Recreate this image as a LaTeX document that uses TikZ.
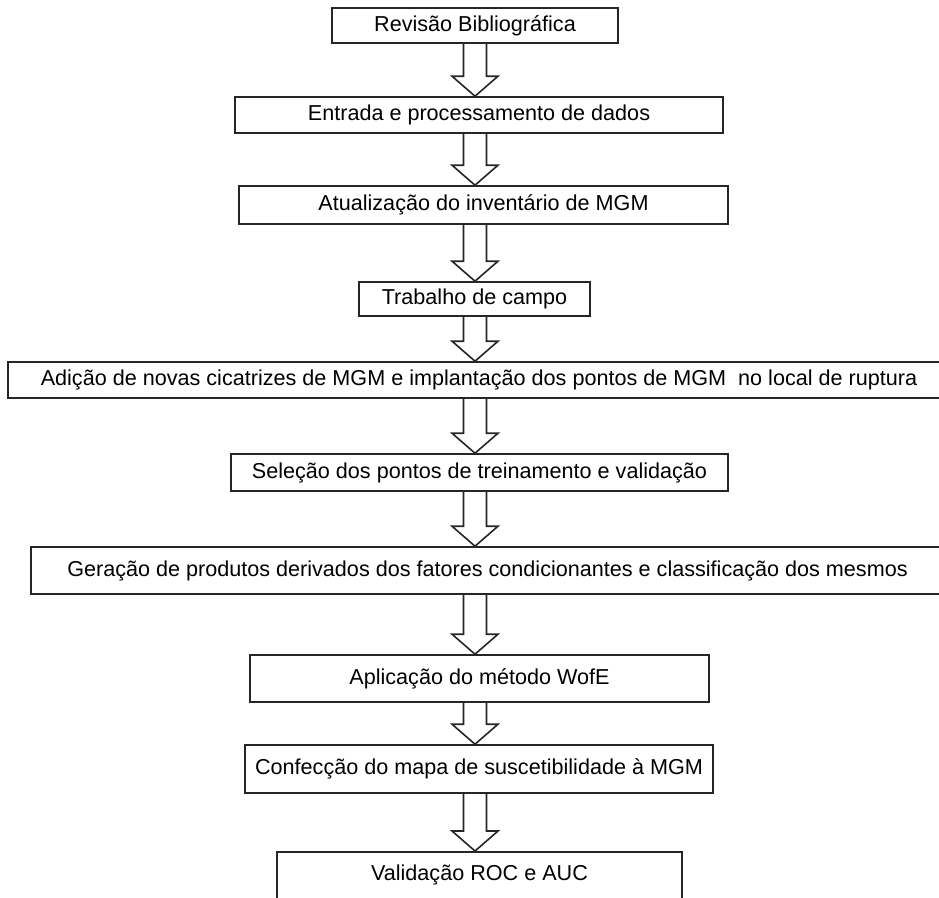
\documentclass[tikz,border=0pt]{standalone}
\usepackage{fontspec}
\setmainfont{Liberation Sans}
\usetikzlibrary{calc}

\begin{document}
\begin{tikzpicture}[x=1pt,y=-1pt,
  font=\fontsize{21.6pt}{26pt}\selectfont,
  stage/.style={draw=black!85,line width=1.6pt,inner sep=0pt},
  blockarrow/.style={draw=black!85,line width=1.6pt,line join=miter}]
 \useasboundingbox (0,0) rectangle (939,897);
 \coordinate (ax) at (475,0);
 \node[stage,minimum width=286,minimum height=35] (rev) at (475,25.5) {Revisão Bibliográfica};
 \node[stage,minimum width=488,minimum height=36] (ent) at (479,115) {Entrada e processamento de dados};
 \node[stage,minimum width=489,minimum height=38] (atu) at (483.5,205) {Atualização do inventário de MGM};
 \node[stage,minimum width=231,minimum height=34] (cam) at (474.5,299) {Trabalho de campo};
 \node[stage,minimum width=942,minimum height=36] (adi) at (479,380)
   {Adição de novas cicatrizes de MGM e implantação dos pontos de MGM~ no local de ruptura};
 \node[stage,minimum width=497,minimum height=37] (sel) at (479.5,472.5) {Seleção dos pontos de treinamento e validação};
 \node[stage,minimum width=913,minimum height=47] (ger) at (487.5,570.5)
   {Geração de produtos derivados dos fatores condicionantes e classificação dos mesmos};
 \node[stage,minimum width=459,minimum height=47] (apl) at (479.5,678.5) {Aplicação do método WofE};
 \node[stage,minimum width=468,minimum height=48] (con) at (479,769) {Confecção do mapa de suscetibilidade à MGM};
 \node[stage,minimum width=405,text height=29pt,text depth=31pt,anchor=north] (val) at (479.5,851) {Validação ROC e AUC};
 \foreach \a/\b in {rev/ent,ent/atu,atu/cam,cam/adi,adi/sel,sel/ger,ger/apl,apl/con,con/val}{
   \path (ax |- \a.south) coordinate (s) (ax |- \b.north) coordinate (t);
   \draw[blockarrow] ($(s)+(-11.5,0)$) -- ($(t)+(-11.5,-20)$) -- ($(t)+(-23,-20)$) -- (t)
     -- ($(t)+(23,-20)$) -- ($(t)+(11.5,-20)$) -- ($(s)+(11.5,0)$);
 }
\end{tikzpicture}
\end{document}
